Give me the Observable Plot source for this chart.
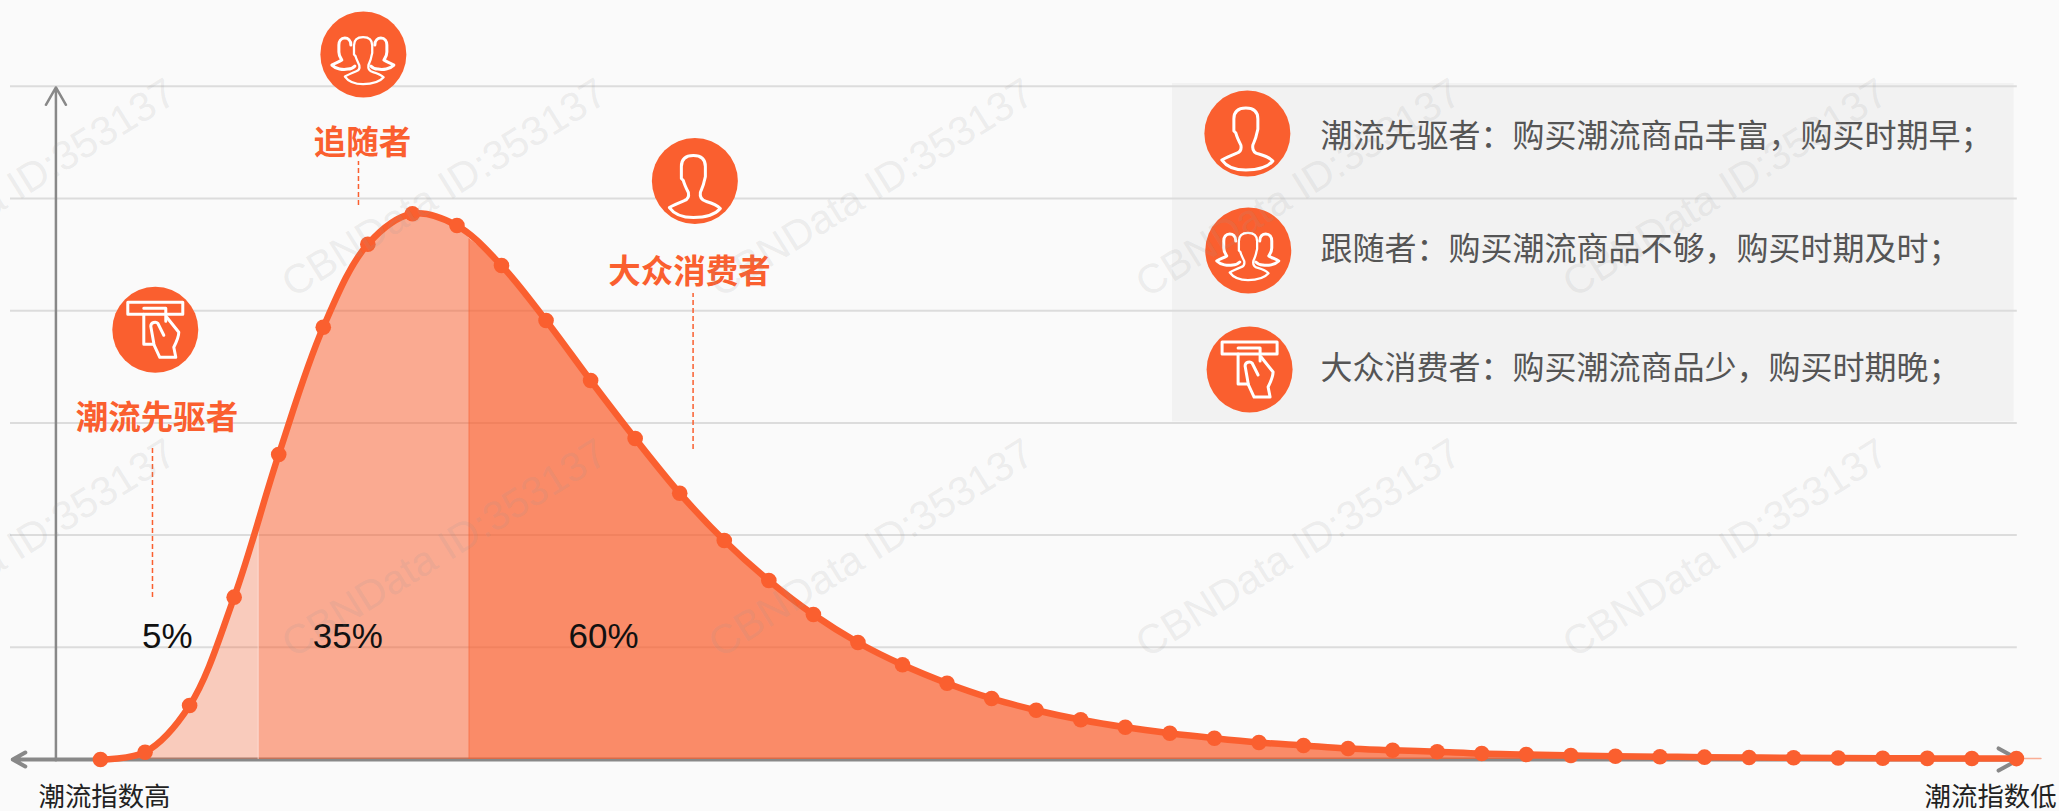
<!DOCTYPE html>
<html lang="zh">
<head>
<meta charset="utf-8">
<title>潮流消费者分布</title>
<script src="https://cdn.jsdelivr.net/npm/d3@7"></script>
<script src="https://cdn.jsdelivr.net/npm/@observablehq/plot@0.6"></script>
<style>
html,body{margin:0;padding:0;background:#fafafa;overflow:hidden}
#chart svg{display:block;background:#fafafa}
</style>
</head>
<body>
<div id="chart"></div>
<script>
// curve values, one per index step
const curveValues = [0,0.65,4.81,14.47,27.18,38.53,45.93,48.64,47.59,44.03,39.13,33.78,28.61,23.73,19.52,15.95,12.92,10.43,8.44,6.80,5.44,4.39,3.54,2.87,2.34,1.90,1.52,1.25,0.98,0.83,0.69,0.53,0.45,0.36,0.29,0.25,0.21,0.18,0.15,0.13,0.11,0.10,0.09,0.08];
// band boundaries on the index axis, with the curve's height there
const bandEdges = [{i:3.54,v:20.7},{i:8.27,v:46.43}];
const gridValues = [10,20,30,40,50,60];
const orange = "#fa5f2f";

const percentLabels = [
  {x:1.50,y:10.93,t:"5%"},{x:5.55,y:10.93,t:"35%"},{x:11.29,y:10.93,t:"60%"}
];
const groupLabels = [
  {x:5.88,y:54.9,t:"追随者"},{x:1.27,y:30.4,t:"潮流先驱者"},{x:13.22,y:43.4,t:"大众消费者"}
];
const axisLabels = [
  {x:0.09,y:-3.42,t:"潮流指数高"},{x:42.42,y:-3.42,t:"潮流指数低"}
];
const panelLabels = [
  {x:27.38,y:55.5,t:"潮流先驱者：购买潮流商品丰富，购买时期早；"},
  {x:27.38,y:45.4,t:"跟随者：购买潮流商品不够，购买时期及时；"},
  {x:27.38,y:34.85,t:"大众消费者：购买潮流商品少，购买时期晚；"}
];
const dashRules = [
  {x:5.79,y1:49.38,y2:53.3},{x:1.167,y1:14.44,y2:27.9},{x:13.3,y1:27.63,y2:41.53}
];
const iconSpots = [
  {x:1.23,y:38.3,k:"hand"},{x:5.90,y:62.83,k:"group"},{x:13.34,y:51.56,k:"person"},
  {x:25.74,y:55.79,k:"person"},{x:25.76,y:45.37,k:"group"},{x:25.79,y:34.76,k:"hand"}
];
const watermarkX = [-1.95,7.72,17.3,26.89,36.47];
const watermarkY = [50.9,18.8];
const panelBox = [{x1:24.06,x2:42.95,y1:30.1,y2:60.25}];

// icon outlines, in pixels around the icon's centre
const personPath = "M-1,-25 C8,-25 11,-20 11,-14 L11,-4 L10,0 C9,6 7,9 6,12 C5,18 8,20 12,21 C19,23 24,26 26,28 C20,35 10,37 -1,37 C-12,37 -20,34 -25,27 C-20,24 -15,22 -10,20 C-7,19 -5,17 -6,12 C-8,8 -10,4 -11,0 L-13,-2 L-13,-14 C-13,-21 -9,-25 -1,-25 Z";
const sidePath = "M-12,-9 C-12,-14 -15,-16 -18,-16 C-22,-16 -24,-13 -24,-9 L-24,-2 C-24,2 -22,4 -21,6 C-24,8 -28,9 -31,11 C-27,15 -20,16 -15,15 C-12,15 -10,14 -8,12";
const iconParts = {
  person:[{d:personPath}],
  group:[{d:personPath,t:"translate(1,2) scale(.76)"},{d:sidePath},{d:sidePath,t:"scale(-1,1)"}],
  hand:[
    {d:"M-27,-27H28V-15H-27Z"},
    {d:"M-11,-15V15H-1"},
    {d:"M-11,-21H11V-8"},
    {d:"M-1,15 L5,28 H21 L19,18 C23,10 24,6 24,3 L12,-12"},
    {d:"M-1,14 L-4,-3 C-4,-7 1,-8 3,-6 L9,6"}
  ]
};

const points = curveValues.map((v,i)=>({i,v}));
const [e1,e2] = bandEdges;
const band1 = [...points.filter(p=>p.i<e1.i), e1];
const band2 = [e1, ...points.filter(p=>p.i>e1.i && p.i<e2.i), e2];
const band3 = [e2, ...points.filter(p=>p.i>e2.i)];
const watermarks = watermarkY.flatMap(y=>watermarkX.map(x=>({x,y})));
const tail = [{i:43,v:0.08},{i:43.55,v:0.08}];

function iconMark(index, scales){
  const g = d3.create("svg:g");
  for (const s of iconSpots){
    const a = g.append("g").attr("transform",`translate(${scales.x(s.x)},${scales.y(s.y)})`)
      .attr("fill","none").attr("stroke","#fff").attr("stroke-width",3).attr("stroke-linejoin","round").attr("stroke-linecap","round");
    for (const p of iconParts[s.k]){
      const e = a.append("path").attr("d",p.d);
      if (p.t) e.attr("transform",p.t);
    }
  }
  return g.node();
}

const cjk = "'Noto Sans CJK SC','Noto Sans',sans-serif";
const latin = "'Liberation Sans',Arial,sans-serif";

const chart = Plot.plot({
  width:2059,height:811,margin:0,
  style:{background:"#fafafa"},
  x:{domain:[-2.244,43.967],range:[0,2059],axis:null},
  y:{domain:[-4.635,67.65],range:[811,0],axis:null},
  marks:[
    Plot.rect(panelBox,{x1:"x1",x2:"x2",y1:"y1",y2:"y2",fill:"#f2f2f2"}),
    Plot.ruleY(gridValues,{x1:-2.02,x2:43.02,stroke:"#dcdcdc",strokeWidth:2}),
    Plot.arrow([{x:-1}],{x1:"x",x2:"x",y1:0,y2:59.9,stroke:"#888",strokeWidth:2.5,headLength:12,headAngle:60}),
    Plot.arrow([{x:-1}],{x1:"x",x2:-1.97,y1:0,y2:0,stroke:"#888",strokeWidth:4,headLength:8.6,headAngle:58}),
    Plot.arrow([{x:-1}],{x1:"x",x2:43.05,y1:0,y2:0,stroke:"#888",strokeWidth:4,headLength:8.6,headAngle:58}),
    Plot.areaY(band1,{x:"i",y:"v",curve:"catmull-rom",fill:orange,fillOpacity:0.3}),
    Plot.areaY(band2,{x:"i",y:"v",curve:"catmull-rom",fill:orange,fillOpacity:0.52}),
    Plot.areaY(band3,{x:"i",y:"v",curve:"catmull-rom",fill:orange,fillOpacity:0.72}),
    Plot.ruleX([e1],{x:"i",y1:0,y2:"v",stroke:"#fff",strokeOpacity:0.4,strokeWidth:1.5}),
    Plot.ruleX([e2],{x:"i",y1:0,y2:"v",stroke:orange,strokeOpacity:0.35,strokeWidth:1.5}),
    Plot.line(tail,{x:"i",y:"v",stroke:orange,strokeOpacity:0.5,strokeWidth:1.5}),
    Plot.line(points,{x:"i",y:"v",curve:"catmull-rom",stroke:orange,strokeWidth:6.5}),
    Plot.dot(points,{x:"i",y:"v",r:7.8,fill:orange,stroke:null}),
    Plot.ruleX(dashRules,{x:"x",y1:"y1",y2:"y2",stroke:orange,strokeWidth:1.5,strokeDasharray:"5,3"}),
    Plot.dot(iconSpots,{x:"x",y:"y",r:43,fill:orange,stroke:null}),
    iconMark,
    Plot.text(groupLabels,{x:"x",y:"y",text:"t",fontSize:32.5,fontWeight:700,fontFamily:cjk,fill:orange}),
    Plot.text(percentLabels,{x:"x",y:"y",text:"t",fontSize:35,fontFamily:latin,fill:"#111"}),
    Plot.text(axisLabels,{x:"x",y:"y",text:"t",fontSize:26.4,fontFamily:cjk,fill:"#222"}),
    Plot.text(panelLabels,{x:"x",y:"y",text:"t",fontSize:32,fontFamily:cjk,fill:"#555",textAnchor:"start"}),
    Plot.text(watermarks,{x:"x",y:"y",text:()=>"CBNData ID:353137",fontSize:41,fontFamily:latin,fill:"#999",fillOpacity:0.15,rotate:-32})
  ]
});
document.getElementById("chart").append(chart);
</script>
</body>
</html>
